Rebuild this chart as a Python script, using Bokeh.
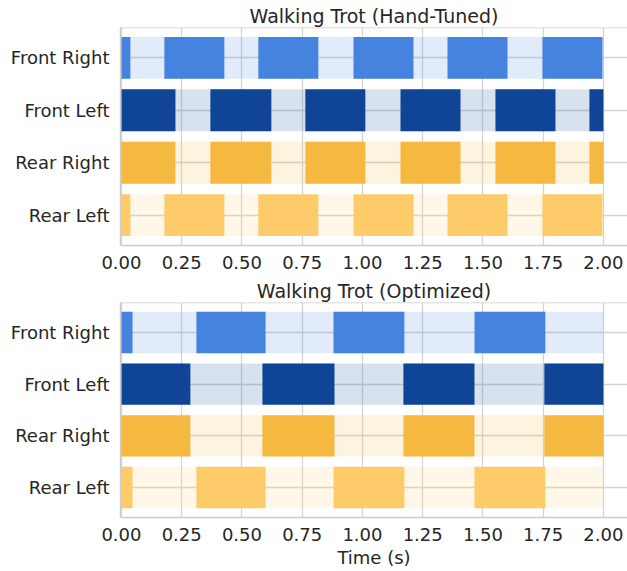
from bokeh.plotting import figure
from bokeh.layouts import column
from bokeh.models import FixedTicker, Range1d, Span, NumeralTickFormatter
from bokeh.embed import file_html
from bokeh.resources import INLINE

# ---- data ----
legs = ["Rear Left", "Rear Right", "Front Left", "Front Right"]  # bottom -> top
leg_colors = ["#FDCB6A", "#F5B841", "#0F4496", "#4583DE"]
time_ticks = [0.0, 0.25, 0.5, 0.75, 1.0, 1.25, 1.5, 1.75, 2.0]
t_end = 2.0
titles = ["Walking Trot (Hand-Tuned)", "Walking Trot (Optimized)"]

# Hand-tuned gait: contact intervals (s)
hand_front_right_start = [0.0, 0.178, 0.568, 0.963, 1.353, 1.747]
hand_front_right_end = [0.037, 0.427, 0.817, 1.212, 1.602, 1.996]
hand_front_left_start = [0.0, 0.369, 0.763, 1.158, 1.552, 1.942]
hand_front_left_end = [0.224, 0.622, 1.012, 1.407, 1.801, 2.0]
hand_rear_right_start = [0.0, 0.369, 0.763, 1.158, 1.552, 1.942]
hand_rear_right_end = [0.224, 0.622, 1.012, 1.407, 1.801, 2.0]
hand_rear_left_start = [0.0, 0.178, 0.568, 0.963, 1.353, 1.747]
hand_rear_left_end = [0.037, 0.427, 0.817, 1.212, 1.602, 1.996]

# Optimized gait: contact intervals (s)
opt_front_right_start = [0.0, 0.311, 0.880, 1.465]
opt_front_right_end = [0.046, 0.598, 1.174, 1.759]
opt_front_left_start = [0.0, 0.585, 1.170, 1.755]
opt_front_left_end = [0.286, 0.884, 1.465, 2.0]
opt_rear_right_start = [0.0, 0.585, 1.170, 1.755]
opt_rear_right_end = [0.286, 0.884, 1.465, 2.0]
opt_rear_left_start = [0.0, 0.311, 0.880, 1.465]
opt_rear_left_end = [0.046, 0.598, 1.174, 1.759]

hand_segments = [
    (hand_rear_left_start, hand_rear_left_end),
    (hand_rear_right_start, hand_rear_right_end),
    (hand_front_left_start, hand_front_left_end),
    (hand_front_right_start, hand_front_right_end),
]
opt_segments = [
    (opt_rear_left_start, opt_rear_left_end),
    (opt_rear_right_start, opt_rear_right_end),
    (opt_front_left_start, opt_front_left_end),
    (opt_front_right_start, opt_front_right_end),
]

FONT = "DejaVu Sans"
TXT = "#262626"
EDGE = "#cccccc"
Y_LO, Y_HI = -0.58, 3.58
X_LO, X_HI = -0.004, 2.1


def make_fig(title, segments, height, b_top, b_bottom, xlabel=None):
    p = figure(width=627, height=height,
               x_range=Range1d(X_LO, X_HI), y_range=Range1d(Y_LO, Y_HI),
               output_backend="svg", toolbar_location=None)
    p.min_border_left = 120
    p.min_border_right = 0
    p.min_border_top = b_top
    p.min_border_bottom = b_bottom
    p.outline_line_color = None
    p.background_fill_color = "white"
    p.border_fill_color = "white"

    ys = list(range(len(legs)))
    p.hbar(y=ys, left=[0.0] * len(legs), right=[t_end] * len(legs), height=0.8,
           fill_color=leg_colors, fill_alpha=0.16, line_color=None)
    for i, (st, en) in enumerate(segments):
        p.hbar(y=[i] * len(st), left=st, right=en, height=0.8,
               fill_color=leg_colors[i], line_color=None)

    p.add_layout(Span(location=Y_HI, dimension="width", line_color=EDGE, line_width=1.5))

    p.xaxis.ticker = FixedTicker(ticks=time_ticks)
    p.xaxis.formatter = NumeralTickFormatter(format="0.00")
    p.xgrid.ticker = FixedTicker(ticks=time_ticks)
    p.yaxis.ticker = FixedTicker(ticks=ys)
    p.ygrid.ticker = FixedTicker(ticks=ys)
    p.yaxis.major_label_overrides = {i: legs[i] for i in ys}

    for ax in (p.xaxis[0], p.yaxis[0]):
        ax.axis_line_color = EDGE
        ax.axis_line_width = 1.5
        ax.major_tick_line_color = None
        ax.minor_tick_line_color = None
        ax.major_tick_out = 0
        ax.major_tick_in = 0
        ax.major_label_text_font = FONT
        ax.major_label_text_color = TXT
        ax.major_label_text_font_size = "18px"
    p.xaxis.major_label_standoff = 10
    p.yaxis.major_label_standoff = 11

    if xlabel:
        p.xaxis.axis_label = xlabel
        p.xaxis.axis_label_text_font = FONT
        p.xaxis.axis_label_text_font_size = "18px"
        p.xaxis.axis_label_text_font_style = "normal"
        p.xaxis.axis_label_text_color = TXT
        p.xaxis.axis_label_standoff = 3

    p.grid.grid_line_color = "#d4d4d4"
    p.grid.grid_line_width = 1.3

    p.title.text = title
    p.title.align = "center"
    p.title.text_font = FONT
    p.title.text_font_size = "19px"
    p.title.text_font_style = "normal"
    p.title.text_color = TXT
    p.title.standoff = 1
    return p


p1 = make_fig(titles[0], hand_segments, 277, 27, 32)
p2 = make_fig(titles[1], opt_segments, 294, 24, 54, xlabel="Time (s)")

layout = column(p1, p2, spacing=0)
open("out.html", "w").write(file_html(layout, INLINE))
